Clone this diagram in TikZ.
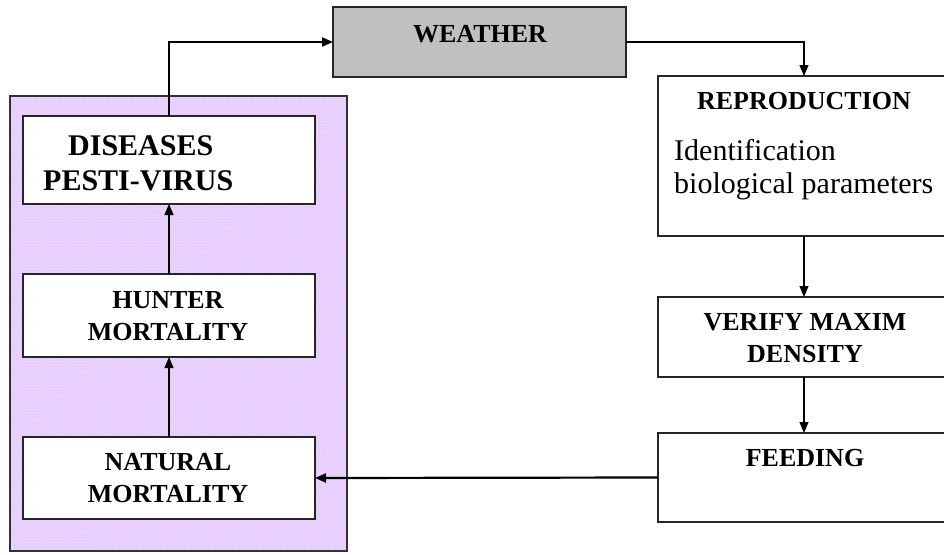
\documentclass[tikz,border=0pt]{standalone}
\usepackage{fontspec}
\setmainfont{Liberation Serif}
\usetikzlibrary{arrows.meta,patterns}
\definecolor{panelc}{RGB}{230,204,255}
\definecolor{weac}{RGB}{192,192,192}
\tikzset{
  box/.style={draw=black!85, line width=1.4pt, fill=white, inner sep=0pt, outer sep=0pt},
  captext/.style={font=\fontsize{26}{32}\selectfont\bfseries, align=center, inner sep=0pt, anchor=base},
  arrthin/.style={draw=black, line width=1.1pt, -{Triangle[length=11pt,width=9pt]}},
  arrthick/.style={draw=black, line width=2.2pt, -{Triangle[length=11pt,width=9pt]}},
}
\begin{document}
\begin{tikzpicture}[x=1pt,y=-1pt]
\useasboundingbox (0,0) rectangle (944,554);
% purple panel
\fill[panelc] (10,96) rectangle (347,551);
\fill[pattern=dots, pattern color=white] (10,96) rectangle (347,551);
\draw[black!80, line width=1.4pt] (10,96) rectangle (347,551);
% boxes
\node[box, minimum width=292pt, minimum height=88pt] (dis) at (169,160) {};
\node[box, minimum width=292pt, minimum height=83pt] (hun) at (169,315.5) {};
\node[box, minimum width=292pt, minimum height=82pt] (nat) at (169,478) {};
\node[box, fill=weac, minimum width=293pt, minimum height=70pt] (wea) at (479.5,42) {};
\node[box, minimum width=292pt, minimum height=160pt] (rep) at (804,156) {};
\node[box, minimum width=292pt, minimum height=80pt] (ver) at (804,337) {};
\node[box, minimum width=292pt, minimum height=89pt] (fee) at (804,477.5) {};
% texts (anchor = baseline of last line)
\node[font=\fontsize{30}{35}\selectfont\bfseries, anchor=base west, inner sep=0pt] (t1) at (68,155) {DISEASES};
\node[font=\fontsize{30}{35}\selectfont\bfseries, anchor=base west, inner sep=0pt] (t2) at (43,190) {PESTI-VIRUS};
\node[captext] (t3) at (168,340) {HUNTER\\MORTALITY};
\node[captext] (t4) at (168,502) {NATURAL\\MORTALITY};
\node[captext] (t5) at (480,42) {WEATHER};
\node[captext] (t6) at (804,109) {REPRODUCTION};
\node[font=\fontsize{30}{33}\selectfont, align=left, anchor=base west, inner sep=0pt] (t7) at (674,193) {Identification\\biological parameters};
\node[captext] (t8) at (805,362) {VERIFY MAXIM\\DENSITY};
\node[captext] (t9) at (805,466) {FEEDING};
% connectors
\draw[arrthick] (dis.north) |- (wea.west);
\draw[arrthin] (wea.east) -| (rep.north);
\draw[arrthin] (rep.south) -- (ver.north);
\draw[arrthin] (ver.south) -- (fee.north);
\draw[arrthick] (fee.west) -- (nat.east);
\draw[arrthin] (nat.north) -- (hun.south);
\draw[arrthin] (hun.north) -- (dis.south);
\end{tikzpicture}
\end{document}
